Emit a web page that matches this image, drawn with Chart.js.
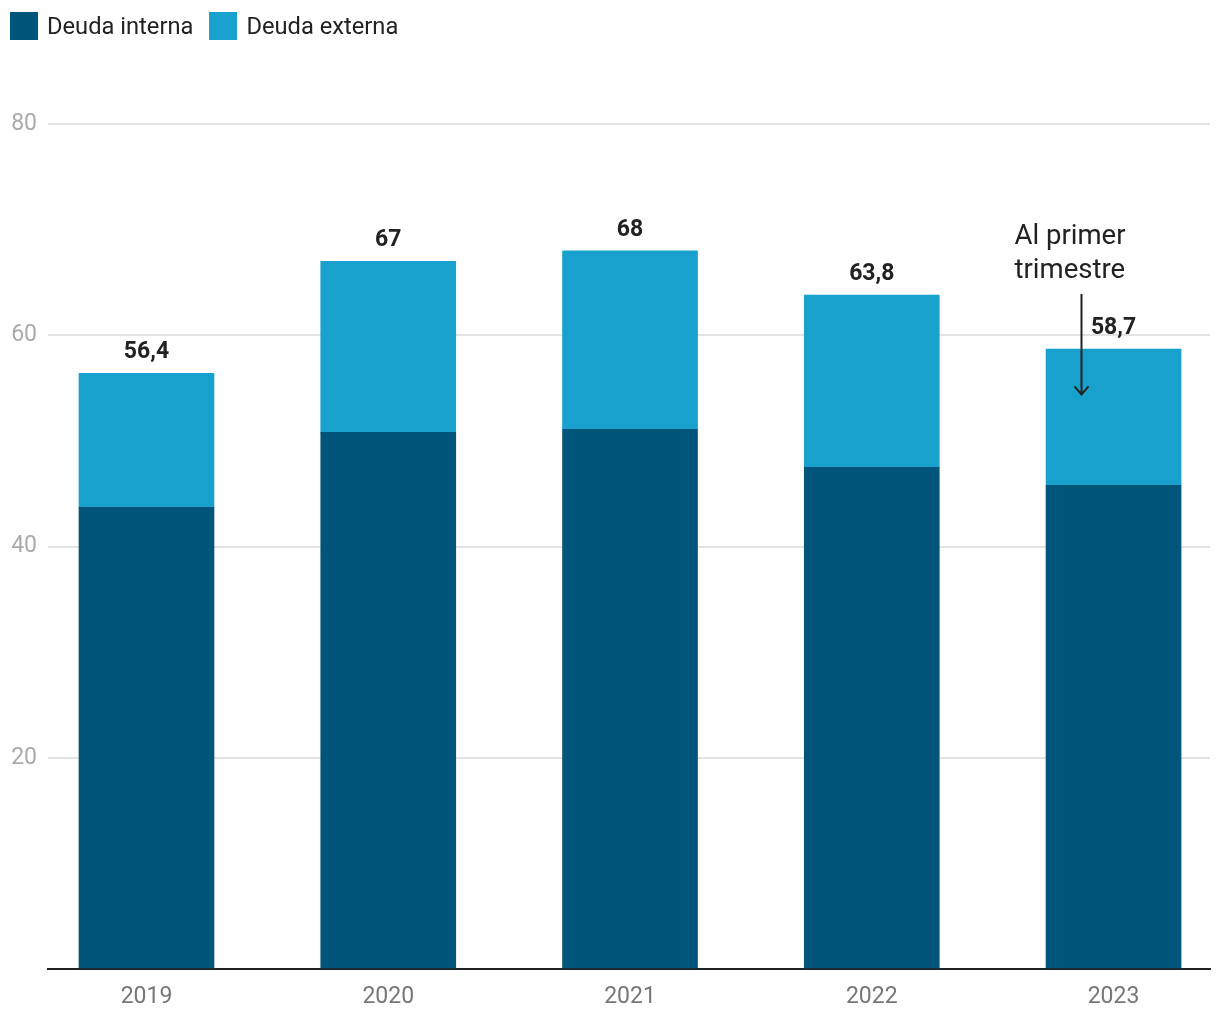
<!DOCTYPE html>
<html>
<head>
<meta charset="utf-8">
<script src="https://cdn.jsdelivr.net/npm/chart.js@4.4.1/dist/chart.umd.min.js"></script>
<style>
  html, body { margin: 0; padding: 0; background: #fff; }
  #wrap { position: relative; width: 1220px; height: 1020px; font-family: Roboto, sans-serif; }
  #legend { position: absolute; left: 10px; top: 12px; display: flex; align-items: center; font-size: 23.7px; color: #222; }
  .item { display: flex; align-items: center; margin-right: 16px; }
  .sw { width: 28px; height: 28px; margin-right: 9px; }
  canvas { position: absolute; left: 0; top: 0; }
</style>
</head>
<body>
<div id="wrap">
  <canvas id="c" width="1220" height="1020"></canvas>
  <div id="legend"></div>
</div>
<script>
const years = ['2019', '2020', '2021', '2022', '2023'];
const deudaInterna = [43.7, 50.8, 51.1, 47.5, 45.8];
const deudaExterna = [12.7, 16.2, 16.9, 16.3, 12.9];
const totalLabels = ['56,4', '67', '68', '63,8', '58,7'];
const yTicks = [20, 40, 60, 80];
const seriesNames = ['Deuda interna', 'Deuda externa'];
const colors = ['#01547a', '#19a1ce'];

const legend = document.getElementById('legend');
seriesNames.forEach((n, i) => {
  const d = document.createElement('div');
  d.className = 'item';
  d.innerHTML = '<div class="sw" style="background:' + colors[i] + '"></div><span>' + n + '</span>';
  legend.appendChild(d);
});

const annotation = { lines: ['Al primer', 'trimestre'], xIndex: 4, xOffset: -99, yValues: [69.3, 66.1], arrowDx: -33, arrowFrom: 63.9, arrowTo: 54.4 };

const labelsPlugin = {
  id: 'labels',
  afterDatasetsDraw(chart) {
    const ctx = chart.ctx, xs = chart.scales.x, ys = chart.scales.y;
    ctx.save();
    ctx.fillStyle = '#222';
    ctx.font = 'bold 23px Roboto';
    ctx.textAlign = 'center';
    ctx.textBaseline = 'middle';
    years.forEach((y, i) => {
      const t = deudaInterna[i] + deudaExterna[i];
      ctx.fillText(totalLabels[i], xs.getPixelForValue(i), ys.getPixelForValue(t) - 21);
    });
    ctx.font = '27.5px Roboto';
    ctx.textAlign = 'left';
    const ax = xs.getPixelForValue(annotation.xIndex);
    annotation.lines.forEach((l, k) => {
      ctx.fillText(l, ax + annotation.xOffset, ys.getPixelForValue(annotation.yValues[k]));
    });
    const arX = Math.round(ax + annotation.arrowDx) + 0.5;
    const y1 = ys.getPixelForValue(annotation.arrowFrom), y2 = ys.getPixelForValue(annotation.arrowTo);
    ctx.strokeStyle = '#222';
    ctx.lineWidth = 2;
    ctx.beginPath();
    ctx.moveTo(arX, y1); ctx.lineTo(arX, y2);
    ctx.moveTo(arX - 7, y2 - 8); ctx.lineTo(arX, y2); ctx.lineTo(arX + 7, y2 - 8);
    ctx.stroke();
    ctx.restore();
  }
};

new Chart(document.getElementById('c'), {
  type: 'bar',
  data: {
    datasets: [
      { label: seriesNames[0], data: deudaInterna.map((v, i) => ({ x: i, y: v })), backgroundColor: colors[0], barThickness: 135 },
      { label: seriesNames[1], data: deudaExterna.map((v, i) => ({ x: i, y: v })), backgroundColor: colors[1], barThickness: 135 }
    ]
  },
  options: {
    responsive: false,
    animation: false,
    layout: { padding: { top: 124, left: 0, right: 10, bottom: 0 } },
    plugins: { legend: { display: false }, tooltip: { enabled: false } },
    scales: {
      x: {
        type: 'linear',
        stacked: true,
        offset: false,
        min: -0.4074,
        max: 4.399,
        afterBuildTicks(scale) { scale.ticks = years.map((_, i) => ({ value: i })); },
        afterFit(scale) { scale.height = 51; },
        grid: { display: false, offset: false },
        border: { display: true, color: '#222', width: 2 },
        ticks: { autoSkip: false, maxRotation: 0, padding: 6, color: '#777', font: { family: 'Roboto', size: 23 }, callback: (v) => years[v] }
      },
      y: {
        stacked: true,
        min: 0,
        max: 80,
        afterBuildTicks(scale) { scale.ticks = [0].concat(yTicks).map(v => ({ value: v })); },
        afterFit(scale) { scale.width = 48; },
        grid: { color: '#e3e3e3', lineWidth: 2, drawTicks: false },
        border: { display: false },
        ticks: { padding: 11, color: '#aaa', font: { family: 'Roboto', size: 23 }, callback: (v) => v === 0 ? '' : String(v) }
      }
    }
  },
  plugins: [labelsPlugin]
});
</script>
</body>
</html>
